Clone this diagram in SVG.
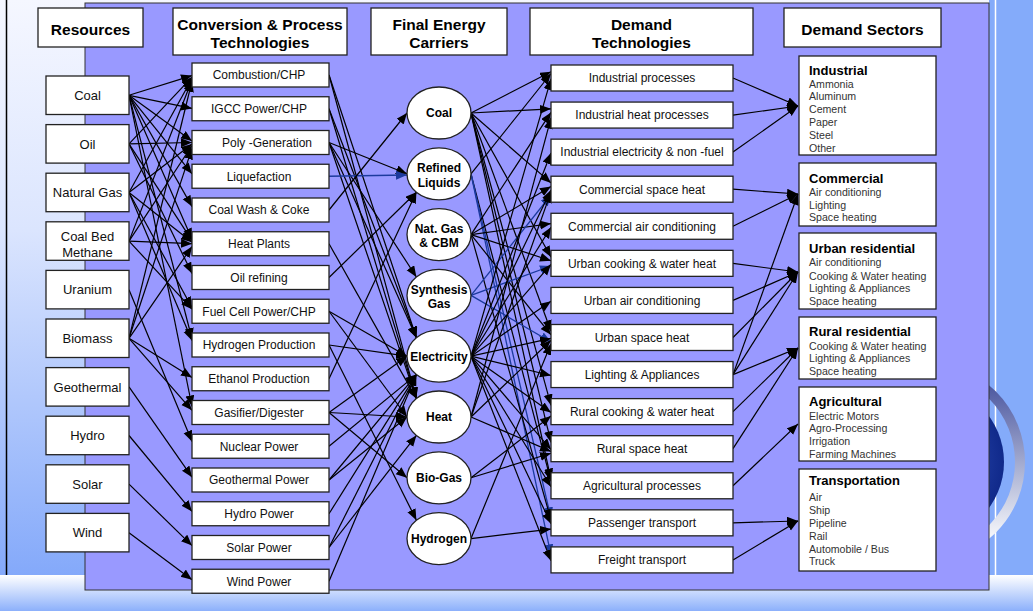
<svg xmlns="http://www.w3.org/2000/svg" width="1033" height="611" viewBox="0 0 1033 611">
<style>
.bx{fill:#fff;stroke:#222;stroke-width:1.3}
.hd{font:bold 15.5px "Liberation Sans",Arial,sans-serif;text-anchor:middle;fill:#000}
.rs{font:13px "Liberation Sans",Arial,sans-serif;text-anchor:middle;fill:#111}
.cv{font:12px "Liberation Sans",Arial,sans-serif;text-anchor:middle;fill:#111}
.ca{font:bold 12px "Liberation Sans",Arial,sans-serif;text-anchor:middle;fill:#000}
.dt{font:12px "Liberation Sans",Arial,sans-serif;text-anchor:middle;fill:#111}
.st{font:bold 13px "Liberation Sans",Arial,sans-serif;fill:#000}
.si{font:10.6px "Liberation Sans",Arial,sans-serif;fill:#333}
.c{stroke:#000;stroke-width:1.2;fill:none;marker-end:url(#ah)}
.b{stroke:#1c3a9e;stroke-width:1.3;fill:none;marker-end:url(#ab)}
</style>
<defs>
<linearGradient id="bgL" x1="0" y1="0" x2="0" y2="575" gradientUnits="userSpaceOnUse">
<stop offset="0" stop-color="#f5f7ff"/><stop offset="0.4" stop-color="#dbe5fe"/><stop offset="1" stop-color="#84a9fa"/>
</linearGradient>
<linearGradient id="bgB" x1="0" y1="575" x2="0" y2="611" gradientUnits="userSpaceOnUse">
<stop offset="0" stop-color="#ffffff"/><stop offset="1" stop-color="#8cb0fb"/>
</linearGradient>
<linearGradient id="ring" x1="0" y1="380" x2="0" y2="545" gradientUnits="userSpaceOnUse">
<stop offset="0" stop-color="#47529c"/><stop offset="0.5" stop-color="#a2aacf"/><stop offset="1" stop-color="#ffffff"/>
</linearGradient>
<radialGradient id="disc" cx="0.5" cy="0.5" r="0.5">
<stop offset="0" stop-color="#3a5cc4"/><stop offset="1" stop-color="#10298a"/>
</radialGradient>
<marker id="ah" markerUnits="userSpaceOnUse" markerWidth="12" markerHeight="10" refX="11" refY="4.5" orient="auto"><path d="M0,0 L11,4.5 L0,9 z" fill="#000"/></marker>
<marker id="ab" markerUnits="userSpaceOnUse" markerWidth="12" markerHeight="10" refX="11" refY="4.5" orient="auto"><path d="M0,0 L11,4.5 L0,9 z" fill="#1c3a9e"/></marker>
</defs>

<g id="background">
<rect x="0" y="0" width="1033" height="611" fill="url(#bgL)"/>
<rect x="989" y="0" width="44" height="575" fill="#84abfa"/>
<rect x="0" y="575" width="1033" height="36" fill="url(#bgB)"/>
<line x1="6.5" y1="0" x2="6.5" y2="575" stroke="#000" stroke-width="1.5"/>
<line x1="995.5" y1="0" x2="995.5" y2="575" stroke="#fff" stroke-width="1.5"/>
<circle cx="925" cy="462" r="95" fill="none" stroke="url(#ring)" stroke-width="10"/>
<circle cx="926" cy="462" r="78" fill="url(#disc)"/>
<rect x="85" y="3" width="904" height="587" fill="#9999ff" stroke="#333" stroke-width="1"/>
</g>

<g id="connectors">
<line class="c" x1="129" y1="95.3" x2="192" y2="75.6"/>
<line class="c" x1="129" y1="95.3" x2="192" y2="108.4"/>
<line class="c" x1="129" y1="95.3" x2="192" y2="141.1"/>
<line class="c" x1="129" y1="95.3" x2="192" y2="173.8"/>
<line class="c" x1="129" y1="95.3" x2="192" y2="206.6"/>
<line class="c" x1="129" y1="95.3" x2="192" y2="239.3"/>
<line class="c" x1="129" y1="95.3" x2="192" y2="339"/>
<line class="c" x1="129" y1="95.3" x2="192" y2="406.5"/>
<line class="c" x1="129" y1="143.9" x2="192" y2="77.1"/>
<line class="c" x1="129" y1="143.9" x2="192" y2="142.5"/>
<line class="c" x1="129" y1="143.9" x2="192" y2="240.7"/>
<line class="c" x1="129" y1="143.9" x2="192" y2="273.5"/>
<line class="c" x1="129" y1="192.5" x2="192" y2="78.5"/>
<line class="c" x1="129" y1="192.5" x2="192" y2="144"/>
<line class="c" x1="129" y1="192.5" x2="192" y2="242.2"/>
<line class="c" x1="129" y1="192.5" x2="192" y2="307.7"/>
<line class="c" x1="129" y1="192.5" x2="192" y2="340.4"/>
<line class="c" x1="129" y1="241.1" x2="192" y2="80"/>
<line class="c" x1="129" y1="241.1" x2="192" y2="145.5"/>
<line class="c" x1="129" y1="241.1" x2="192" y2="243.7"/>
<line class="c" x1="129" y1="241.1" x2="192" y2="309.2"/>
<line class="c" x1="129" y1="289.7" x2="192" y2="441.6"/>
<line class="c" x1="129" y1="338.3" x2="192" y2="81"/>
<line class="c" x1="129" y1="338.3" x2="192" y2="148.4"/>
<line class="c" x1="129" y1="338.3" x2="192" y2="246.5"/>
<line class="c" x1="129" y1="338.3" x2="192" y2="377.5"/>
<line class="c" x1="129" y1="338.3" x2="192" y2="410.3"/>
<line class="c" x1="129" y1="386.9" x2="192" y2="477.2"/>
<line class="c" x1="129" y1="435.5" x2="192" y2="511.4"/>
<line class="c" x1="129" y1="484.1" x2="192" y2="545.6"/>
<line class="c" x1="129" y1="532.7" x2="192" y2="579.8"/>

<line class="c" x1="329" y1="75" x2="416.4" y2="337.8"/>
<line class="c" x1="329" y1="75" x2="416.4" y2="398.6"/>
<line class="c" x1="329" y1="108.75" x2="416.4" y2="337.8"/>
<line class="c" x1="329" y1="108.75" x2="416.4" y2="398.6"/>
<line class="c" x1="329" y1="142.5" x2="407" y2="173.8"/>
<line class="c" x1="329" y1="142.5" x2="416.4" y2="277"/>
<line class="c" x1="329" y1="142.5" x2="416.4" y2="337.8"/>
<line class="c" x1="329" y1="142.5" x2="416.4" y2="398.6"/>
<line class="b" x1="329" y1="176.25" x2="407" y2="175"/>
<line class="c" x1="329" y1="210" x2="407" y2="113"/>
<line class="c" x1="329" y1="243.75" x2="416.4" y2="398.6"/>
<line class="c" x1="329" y1="277.5" x2="416.4" y2="192.2"/>
<line class="c" x1="329" y1="311.25" x2="407" y2="356.2"/>
<line class="c" x1="329" y1="311.25" x2="407" y2="417"/>
<line class="c" x1="329" y1="345" x2="407" y2="356.2"/>
<line class="c" x1="329" y1="345" x2="416.4" y2="520.2"/>
<line class="c" x1="329" y1="378.75" x2="416.4" y2="192.2"/>
<line class="c" x1="329" y1="412.5" x2="407" y2="356.2"/>
<line class="c" x1="329" y1="412.5" x2="407" y2="417"/>
<line class="c" x1="329" y1="412.5" x2="407" y2="477.8"/>
<line class="c" x1="329" y1="446.25" x2="416.4" y2="374.6"/>
<line class="c" x1="329" y1="480" x2="416.4" y2="374.6"/>
<line class="c" x1="329" y1="480" x2="407" y2="417"/>
<line class="c" x1="329" y1="513.75" x2="416.4" y2="374.6"/>
<line class="c" x1="329" y1="547.5" x2="416.4" y2="374.6"/>
<line class="c" x1="329" y1="547.5" x2="416.4" y2="435.4"/>
<line class="c" x1="329" y1="581.25" x2="416.4" y2="374.6"/>

<line class="c" x1="471" y1="113" x2="551" y2="71.7"/>
<line class="c" x1="471" y1="113" x2="551" y2="108.8"/>
<line class="c" x1="471" y1="113" x2="551" y2="182.9"/>
<line class="c" x1="471" y1="113" x2="551" y2="257.1"/>
<line class="c" x1="471" y1="113" x2="551" y2="331.2"/>
<line class="c" x1="471" y1="113" x2="551" y2="405.3"/>
<line class="c" x1="471" y1="113" x2="551" y2="442.4"/>
<line class="c" x1="471" y1="113" x2="551" y2="479.5"/>
<line class="c" x1="471" y1="173.8" x2="551" y2="73.5"/>
<line class="c" x1="471" y1="173.8" x2="551" y2="481.3"/>
<line class="b" x1="471" y1="173.8" x2="551" y2="518.3"/>
<line class="b" x1="471" y1="173.8" x2="551" y2="555.4"/>
<line class="c" x1="471" y1="234.6" x2="551" y2="112.4"/>
<line class="c" x1="471" y1="234.6" x2="551" y2="186.5"/>
<line class="c" x1="471" y1="234.6" x2="551" y2="223.6"/>
<line class="c" x1="471" y1="234.6" x2="551" y2="260.7"/>
<line class="c" x1="471" y1="234.6" x2="551" y2="334.8"/>
<line class="c" x1="471" y1="234.6" x2="551" y2="520.1"/>
<line class="b" x1="471" y1="295.4" x2="551" y2="195"/>
<line class="b" x1="471" y1="295.4" x2="551" y2="266"/>
<line class="b" x1="471" y1="295.4" x2="551" y2="342"/>
<line class="c" x1="471" y1="356.2" x2="551" y2="78.9"/>
<line class="c" x1="471" y1="356.2" x2="551" y2="153"/>
<line class="c" x1="471" y1="356.2" x2="551" y2="190.1"/>
<line class="c" x1="471" y1="356.2" x2="551" y2="227.2"/>
<line class="c" x1="471" y1="356.2" x2="551" y2="264.3"/>
<line class="c" x1="471" y1="356.2" x2="551" y2="301.3"/>
<line class="c" x1="471" y1="356.2" x2="551" y2="338.4"/>
<line class="c" x1="471" y1="356.2" x2="551" y2="375.5"/>
<line class="c" x1="471" y1="356.2" x2="551" y2="412.5"/>
<line class="c" x1="471" y1="356.2" x2="551" y2="449.6"/>
<line class="c" x1="471" y1="356.2" x2="551" y2="486.7"/>
<line class="c" x1="471" y1="356.2" x2="551" y2="523.7"/>
<line class="c" x1="471" y1="356.2" x2="551" y2="560.8"/>
<line class="c" x1="471" y1="417" x2="551" y2="117.8"/>
<line class="c" x1="471" y1="417" x2="551" y2="191.9"/>
<line class="c" x1="471" y1="417" x2="551" y2="340.2"/>
<line class="c" x1="471" y1="417" x2="551" y2="451.4"/>
<line class="c" x1="471" y1="477.8" x2="551" y2="416.1"/>
<line class="c" x1="471" y1="477.8" x2="551" y2="453.2"/>
<line class="c" x1="471" y1="538.6" x2="551" y2="343.8"/>
<line class="c" x1="471" y1="538.6" x2="551" y2="529.1"/>

<line class="c" x1="733" y1="78" x2="798" y2="106"/>
<line class="c" x1="733" y1="115.1" x2="798" y2="106"/>
<line class="c" x1="733" y1="152.1" x2="798" y2="106"/>
<line class="c" x1="733" y1="189.2" x2="798" y2="194"/>
<line class="c" x1="733" y1="226.3" x2="798" y2="194"/>
<line class="c" x1="733" y1="374.6" x2="798" y2="194"/>
<line class="c" x1="733" y1="263.4" x2="798" y2="272"/>
<line class="c" x1="733" y1="300.4" x2="798" y2="272"/>
<line class="c" x1="733" y1="337.5" x2="798" y2="272"/>
<line class="c" x1="733" y1="374.6" x2="798" y2="272"/>
<line class="c" x1="733" y1="374.6" x2="798" y2="348"/>
<line class="c" x1="733" y1="411.6" x2="798" y2="348"/>
<line class="c" x1="733" y1="448.7" x2="798" y2="348"/>
<line class="c" x1="733" y1="485.8" x2="798" y2="424"/>
<line class="c" x1="733" y1="522.8" x2="798" y2="521"/>
<line class="c" x1="733" y1="559.9" x2="798" y2="521"/>
</g>

<g id="headers">
<g id="hdr-resources"><rect class="bx" x="38" y="8" width="105" height="39"/><text class="hd" x="90.5" y="34.5">Resources</text></g>
<g id="hdr-conversion"><rect class="bx" x="173" y="8" width="174" height="47"/><text class="hd" x="260" y="29.5">Conversion &amp; Process</text><text class="hd" x="260" y="47.5">Technologies</text></g>
<g id="hdr-carriers"><rect class="bx" x="371" y="8" width="136" height="47"/><text class="hd" x="439" y="29.5">Final Energy</text><text class="hd" x="439" y="47.5">Carriers</text></g>
<g id="hdr-demandtech"><rect class="bx" x="530" y="8" width="223" height="47"/><text class="hd" x="641.5" y="29.5">Demand</text><text class="hd" x="641.5" y="47.5">Technologies</text></g>
<g id="hdr-sectors"><rect class="bx" x="784" y="8" width="157" height="39"/><text class="hd" x="862.5" y="34.5">Demand Sectors</text></g>
</g>

<g id="resources">
<g id="res-coal"><rect class="bx" x="46" y="76" width="83" height="38.5"/><text class="rs" x="87.5" y="99.9">Coal</text></g>
<g id="res-oil"><rect class="bx" x="46" y="124.6" width="83" height="38.5"/><text class="rs" x="87.5" y="148.5">Oil</text></g>
<g id="res-natgas"><rect class="bx" x="46" y="173.2" width="83" height="38.5"/><text class="rs" x="87.5" y="197.1">Natural Gas</text></g>
<g id="res-cbm"><rect class="bx" x="46" y="221.8" width="83" height="38.5"/><text class="rs" x="87.5" y="240.6">Coal Bed</text><text class="rs" x="87.5" y="256.9">Methane</text></g>
<g id="res-uranium"><rect class="bx" x="46" y="270.4" width="83" height="38.5"/><text class="rs" x="87.5" y="294.3">Uranium</text></g>
<g id="res-biomass"><rect class="bx" x="46" y="319" width="83" height="38.5"/><text class="rs" x="87.5" y="342.9">Biomass</text></g>
<g id="res-geothermal"><rect class="bx" x="46" y="367.6" width="83" height="38.5"/><text class="rs" x="87.5" y="391.5">Geothermal</text></g>
<g id="res-hydro"><rect class="bx" x="46" y="416.2" width="83" height="38.5"/><text class="rs" x="87.5" y="440.1">Hydro</text></g>
<g id="res-solar"><rect class="bx" x="46" y="464.8" width="83" height="38.5"/><text class="rs" x="87.5" y="488.7">Solar</text></g>
<g id="res-wind"><rect class="bx" x="46" y="513.4" width="83" height="38.5"/><text class="rs" x="87.5" y="537.3">Wind</text></g>
</g>

<g id="conversion">
<g id="cv-combustion"><rect class="bx" x="192" y="63" width="137" height="24"/><text class="cv" x="259" y="79.3">Combustion/CHP</text></g>
<g id="cv-igcc"><rect class="bx" x="192" y="96.75" width="137" height="24"/><text class="cv" x="259" y="113">IGCC Power/CHP</text></g>
<g id="cv-poly"><rect class="bx" x="192" y="130.5" width="137" height="24"/><text class="cv" x="267" y="146.8">Poly -Generation</text></g>
<g id="cv-liquefaction"><rect class="bx" x="192" y="164.25" width="137" height="24"/><text class="cv" x="259" y="180.5">Liquefaction</text></g>
<g id="cv-coalwash"><rect class="bx" x="192" y="198" width="137" height="24"/><text class="cv" x="259" y="214.3">Coal Wash &amp; Coke</text></g>
<g id="cv-heatplants"><rect class="bx" x="192" y="231.75" width="137" height="24"/><text class="cv" x="259" y="248">Heat Plants</text></g>
<g id="cv-oilrefining"><rect class="bx" x="192" y="265.5" width="137" height="24"/><text class="cv" x="259" y="281.8">Oil refining</text></g>
<g id="cv-fuelcell"><rect class="bx" x="192" y="299.25" width="137" height="24"/><text class="cv" x="259" y="315.5">Fuel Cell Power/CHP</text></g>
<g id="cv-hydrogen"><rect class="bx" x="192" y="333" width="137" height="24"/><text class="cv" x="259" y="349.3">Hydrogen Production</text></g>
<g id="cv-ethanol"><rect class="bx" x="192" y="366.75" width="137" height="24"/><text class="cv" x="259" y="383">Ethanol Production</text></g>
<g id="cv-gasifier"><rect class="bx" x="192" y="400.5" width="137" height="24"/><text class="cv" x="259" y="416.8">Gasifier/Digester</text></g>
<g id="cv-nuclear"><rect class="bx" x="192" y="434.25" width="137" height="24"/><text class="cv" x="259" y="450.5">Nuclear Power</text></g>
<g id="cv-geothermal"><rect class="bx" x="192" y="468" width="137" height="24"/><text class="cv" x="259" y="484.3">Geothermal Power</text></g>
<g id="cv-hydro"><rect class="bx" x="192" y="501.75" width="137" height="24"/><text class="cv" x="259" y="518">Hydro Power</text></g>
<g id="cv-solar"><rect class="bx" x="192" y="535.5" width="137" height="24"/><text class="cv" x="259" y="551.8">Solar Power</text></g>
<g id="cv-wind"><rect class="bx" x="192" y="569.25" width="137" height="24"/><text class="cv" x="259" y="585.5">Wind Power</text></g>
</g>

<g id="carriers">
<g id="ca-coal"><ellipse class="bx" cx="439" cy="113" rx="32" ry="26"/><text class="ca" x="439" y="117.3">Coal</text></g>
<g id="ca-refined"><ellipse class="bx" cx="439" cy="173.8" rx="32" ry="26"/><text class="ca" x="439" y="172">Refined</text><text class="ca" x="439" y="187">Liquids</text></g>
<g id="ca-natgas"><ellipse class="bx" cx="439" cy="234.6" rx="32" ry="26"/><text class="ca" x="439" y="232.6">Nat. Gas</text><text class="ca" x="439" y="247">&amp; CBM</text></g>
<g id="ca-syngas"><ellipse class="bx" cx="439" cy="295.4" rx="32" ry="26"/><text class="ca" x="439" y="293.6">Synthesis</text><text class="ca" x="439" y="307.6">Gas</text></g>
<g id="ca-electricity"><ellipse class="bx" cx="439" cy="356.2" rx="32" ry="26"/><text class="ca" x="439" y="360.5">Electricity</text></g>
<g id="ca-heat"><ellipse class="bx" cx="439" cy="417" rx="32" ry="26"/><text class="ca" x="439" y="421.3">Heat</text></g>
<g id="ca-biogas"><ellipse class="bx" cx="439" cy="477.8" rx="32" ry="26"/><text class="ca" x="439" y="482.1">Bio-Gas</text></g>
<g id="ca-hydrogen"><ellipse class="bx" cx="439" cy="538.6" rx="32" ry="26"/><text class="ca" x="439" y="542.9">Hydrogen</text></g>
</g>

<g id="demandtech">
<g id="dt-indproc"><rect class="bx" x="551" y="65" width="182" height="26"/><text class="dt" x="642" y="82.3">Industrial processes</text></g>
<g id="dt-indheat"><rect class="bx" x="551" y="102.07" width="182" height="26"/><text class="dt" x="642" y="119.4">Industrial heat processes</text></g>
<g id="dt-indelec"><rect class="bx" x="551" y="139.14" width="182" height="26"/><text class="dt" x="642" y="156.4">Industrial electricity &amp; non -fuel</text></g>
<g id="dt-commheat"><rect class="bx" x="551" y="176.21" width="182" height="26"/><text class="dt" x="642" y="193.5">Commercial space heat</text></g>
<g id="dt-commair"><rect class="bx" x="551" y="213.28" width="182" height="26"/><text class="dt" x="642" y="230.6">Commercial air conditioning</text></g>
<g id="dt-urbcook"><rect class="bx" x="551" y="250.35" width="182" height="26"/><text class="dt" x="642" y="267.7">Urban cooking &amp; water heat</text></g>
<g id="dt-urbair"><rect class="bx" x="551" y="287.42" width="182" height="26"/><text class="dt" x="642" y="304.7">Urban air conditioning</text></g>
<g id="dt-urbheat"><rect class="bx" x="551" y="324.49" width="182" height="26"/><text class="dt" x="642" y="341.8">Urban space heat</text></g>
<g id="dt-lighting"><rect class="bx" x="551" y="361.56" width="182" height="26"/><text class="dt" x="642" y="378.9">Lighting &amp; Appliances</text></g>
<g id="dt-rurcook"><rect class="bx" x="551" y="398.63" width="182" height="26"/><text class="dt" x="642" y="415.9">Rural cooking &amp; water heat</text></g>
<g id="dt-rurheat"><rect class="bx" x="551" y="435.7" width="182" height="26"/><text class="dt" x="642" y="453">Rural space heat</text></g>
<g id="dt-agri"><rect class="bx" x="551" y="472.77" width="182" height="26"/><text class="dt" x="642" y="490.1">Agricultural processes</text></g>
<g id="dt-passenger"><rect class="bx" x="551" y="509.84" width="182" height="26"/><text class="dt" x="642" y="527.1">Passenger transport</text></g>
<g id="dt-freight"><rect class="bx" x="551" y="546.91" width="182" height="26"/><text class="dt" x="642" y="564.2">Freight transport</text></g>
</g>

<g id="sectors">
<g id="sec-industrial"><rect class="bx" x="799" y="56" width="137" height="99"/>
<text class="st" x="809" y="74.5">Industrial</text>
<text class="si" x="809" y="87.5">Ammonia</text><text class="si" x="809" y="100">Aluminum</text><text class="si" x="809" y="113">Cement</text><text class="si" x="809" y="126">Paper</text><text class="si" x="809" y="138.5">Steel</text><text class="si" x="809" y="151.5">Other</text></g>
<g id="sec-commercial"><rect class="bx" x="799" y="163" width="137" height="63"/>
<text class="st" x="809" y="182.5">Commercial</text>
<text class="si" x="809" y="196.3">Air conditioning</text><text class="si" x="809" y="208.5">Lighting</text><text class="si" x="809" y="221.3">Space heating</text></g>
<g id="sec-urban"><rect class="bx" x="799" y="233" width="137" height="76"/>
<text class="st" x="809" y="253">Urban residential</text>
<text class="si" x="809" y="266.3">Air conditioning</text><text class="si" x="809" y="279.7">Cooking &amp; Water heating</text><text class="si" x="809" y="291.8">Lighting &amp; Appliances</text><text class="si" x="809" y="304.7">Space heating</text></g>
<g id="sec-rural"><rect class="bx" x="799" y="317" width="137" height="62"/>
<text class="st" x="809" y="335.8">Rural residential</text>
<text class="si" x="809" y="349.7">Cooking &amp; Water heating</text><text class="si" x="809" y="362.3">Lighting &amp; Appliances</text><text class="si" x="809" y="374.7">Space heating</text></g>
<g id="sec-agri"><rect class="bx" x="799" y="387" width="137" height="74"/>
<text class="st" x="809" y="405.8">Agricultural</text>
<text class="si" x="809" y="419.7">Electric Motors</text><text class="si" x="809" y="432.3">Agro-Processing</text><text class="si" x="809" y="445.3">Irrigation</text><text class="si" x="809" y="458">Farming Machines</text></g>
<g id="sec-transport"><rect class="bx" x="799" y="469" width="137" height="102"/>
<text class="st" x="809" y="485.3">Transportation</text>
<text class="si" x="809" y="500.7">Air</text><text class="si" x="809" y="514">Ship</text><text class="si" x="809" y="527.3">Pipeline</text><text class="si" x="809" y="540">Rail</text><text class="si" x="809" y="552.7">Automobile / Bus</text><text class="si" x="809" y="565">Truck</text></g>
</g>
</svg>
